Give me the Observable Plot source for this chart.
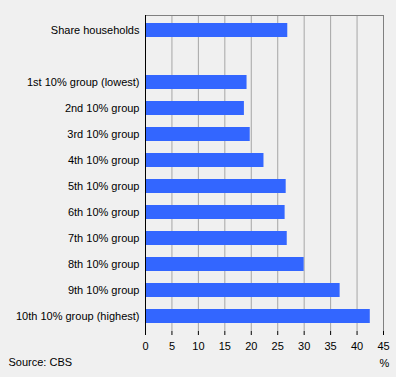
<!DOCTYPE html>
<html>
<head>
<meta charset="utf-8">
<script src="https://cdn.jsdelivr.net/npm/d3@7"></script>
<script src="https://cdn.jsdelivr.net/npm/@observablehq/plot@0.6"></script>
<style>
  html, body { margin: 0; padding: 0; background: #f0f0f0; }
  #chart svg { display: block; }
</style>
</head>
<body>
<div id="chart"></div>
<script>
const categories = [
  "Share households",
  " ",
  "1st 10% group (lowest)",
  "2nd 10% group",
  "3rd 10% group",
  "4th 10% group",
  "5th 10% group",
  "6th 10% group",
  "7th 10% group",
  "8th 10% group",
  "9th 10% group",
  "10th 10% group (highest)"
];
const values = [26.9, null, 19.2, 18.7, 19.8, 22.4, 26.6, 26.4, 26.8, 30.0, 36.8, 42.5];
const xTicks = [0, 5, 10, 15, 20, 25, 30, 35, 40, 45];
const gridTicks = [5, 10, 15, 20, 25, 30, 35, 40];

const data = categories.map((c, i) => ({category: c, value: values[i]})).filter(d => d.value != null);

const chart = Plot.plot({
  width: 396,
  height: 377,
  marginLeft: 145,
  marginRight: 13,
  marginTop: 15,
  marginBottom: 46,
  style: {background: "#f0f0f0", fontFamily: "'Liberation Sans', Arial, sans-serif", fontSize: "11px", color: "#000"},
  x: {domain: [0, 45], label: null},
  y: {domain: categories, paddingInner: 0.47, paddingOuter: 0.235, label: null},
  marks: [
    Plot.ruleX(gridTicks, {stroke: "#a6a6a6", strokeWidth: 1}),
    Plot.ruleX([45], {stroke: "#808080", strokeWidth: 1}),
    Plot.frame({anchor: "top", stroke: "#808080"}),
    Plot.barX(data, {x: "value", y: "category", fill: "#3366ff"}),
    Plot.axisY({tickSize: 0, tickPadding: 6, fontSize: 11, label: null}),
    Plot.axisX({ticks: xTicks, tickSize: 4, tickPadding: 7, fontSize: 11, label: null, stroke: "#000"}),
    Plot.ruleY([0], {frameAnchor: "bottom", stroke: "#000"}),
    Plot.ruleX([0], {stroke: "#000"}),
    Plot.text(["%"], {frameAnchor: "bottom-right", dx: 1, dy: 35, textAnchor: "middle", fontSize: 11, fill: "#000"}),
    Plot.text(["Source: CBS"], {frameAnchor: "bottom-left", dx: -137, dy: 34, textAnchor: "start", fontSize: 11, fill: "#000"})
  ]
});
document.getElementById("chart").appendChild(chart);
</script>
</body>
</html>
